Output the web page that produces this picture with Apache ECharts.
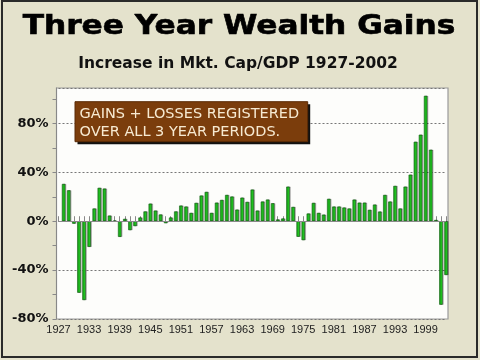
<!DOCTYPE html>
<html>
<head>
<meta charset="utf-8">
<script src="https://cdn.jsdelivr.net/npm/echarts@6/dist/echarts.min.js"></script>
<style>
html,body{margin:0;padding:0;background:#e4e2cc;}
#chart{width:480px;height:360px;}
</style>
</head>
<body>
<div id="chart"></div>
<script>
// Axis tick labels (one tick per year; a label every 6 years)
const axisYears = [];
for (let y = 1927; y <= 2003; y++) axisYears.push(String(y));
// Year positions of the bars (one step right of the first tick)
const barYears = axisYears.slice(1);
// Three-year change in market cap / GDP, percent
const gains = [
  30.5, 25.3, -2, -58.5, -64.5, -21, 10.4, 27.3, 26.7, 4.6,
  0.5, -12.8, 1.9, -7.3, -4, 3, 8, 14.4, 8.7, 5.5,
  -1.6, 3, 8, 12.8, 12, 6.8, 15, 21, 24, 6.8,
  15.2, 17.4, 21.5, 20.2, 9.5, 19.3, 15.8, 25.9, 8.7, 16.1,
  17.7, 14.7, 1.4, 2.2, 28.3, 11.7, -12.7, -15.5, 6.3, 15,
  6.8, 5.4, 18.3, 12, 12, 11.2, 10.4, 17.7, 15.2, 15.2,
  9.3, 13.6, 7.9, 21.5, 16.1, 28.9, 10.4, 28.3, 38.1, 65,
  70.8, 102.6, 58.5, 1, -68.3, -44
];
const yTickValues = [-80, -60, -40, -20, 0, 20, 40, 60, 80, 100];
const yLabelValues = [-80, -40, 0, 40, 80];
const titleText = 'Three Year Wealth Gains';
const subtitleText = 'Increase in Mkt. Cap/GDP 1927-2002';
const noteLines = ['GAINS + LOSSES REGISTERED', 'OVER ALL 3 YEAR PERIODS.'];

const chart = echarts.init(document.getElementById('chart'), null, {renderer: 'canvas'});
const option = {
  backgroundColor: '#e4e2cc',
  animation: false,
  grid: {left: 58.5, right: 34, top: 88, bottom: 41},
  xAxis: {
    type: 'category',
    data: axisYears,
    boundaryGap: false,
    axisLine: {lineStyle: {color: '#888', width: 1}},
    axisTick: {show: true, interval: 0, inside: true, length: 5, lineStyle: {color: '#888'}},
    axisLabel: {interval: 5, color: '#222', fontFamily: 'Liberation Sans', fontSize: 11, margin: 5},
    splitLine: {show: false}
  },
  yAxis: [{
    type: 'value',
    min: -80, max: 109, interval: 40,
    offset: 2,
    axisLine: {show: true, lineStyle: {color: '#888', width: 1}},
    axisTick: {show: true, length: 4, customValues: yTickValues, lineStyle: {color: '#888'}},
    axisLabel: {
      customValues: yLabelValues,
      formatter: v => v + '%',
      color: '#111', fontFamily: 'DejaVu Sans', fontWeight: 'bold', fontSize: 13, margin: 8
    },
    splitLine: {show: false}
  }, {
    type: 'value',
    position: 'left',
    min: -80, max: 109, interval: 40,
    axisLine: {show: false}, axisTick: {show: false}, axisLabel: {show: false},
    splitLine: {show: true, lineStyle: {color: '#777', type: [2, 2], width: 1}}
  }],
  series: [{
    type: 'bar',
    data: barYears.map((y, i) => [y, gains[i]]),
    barWidth: 3.4,
    itemStyle: {
      color: '#22cc22', borderColor: '#0d520d', borderWidth: 0.6,
      shadowColor: 'rgba(0,0,0,0.3)', shadowOffsetX: 1, shadowOffsetY: 0, shadowBlur: 0
    },
    markLine: {
      silent: true, symbol: 'none', label: {show: false},
      lineStyle: {color: '#8a8a8a', type: 'solid', width: 1},
      data: [{yAxis: 0}]
    }
  }],
  graphic: [
    {type: 'rect', z: -10, silent: true, shape: {x: 2, y: 1, width: 475, height: 356},
     style: {fill: 'none', stroke: '#2a2a2a', lineWidth: 2}},
    {type: 'rect', z: -5, silent: true, shape: {x: 56.5, y: 88, width: 391.5, height: 231},
     style: {fill: '#fdfdfb', stroke: '#9a9a9a', lineWidth: 1.2}},
    {type: 'text', z: 50, x: 239, y: 27, scaleX: 1.2, silent: true,
     style: {text: titleText, fill: '#000', stroke: '#000', lineWidth: 0.6,
             font: 'bold 26px "DejaVu Sans"', align: 'center', verticalAlign: 'middle'}},
    {type: 'text', z: 50, x: 238, y: 63.5, silent: true,
     style: {text: subtitleText, fill: '#111', font: 'bold 15.5px "DejaVu Sans"', align: 'center', verticalAlign: 'middle'}},
    {type: 'rect', z: 60, silent: true, shape: {x: 77.5, y: 104.3, width: 232.7, height: 40},
     style: {fill: '#111'}},
    {type: 'rect', z: 61, silent: true, shape: {x: 75, y: 101.7, width: 232.7, height: 40},
     style: {fill: '#7b3d0c', stroke: '#5a2a06', lineWidth: 1}},
    {type: 'text', z: 62, x: 79.5, y: 114, silent: true,
     style: {text: noteLines[0], fill: '#f7ead2', font: '14.5px "DejaVu Sans"', align: 'left', verticalAlign: 'middle'}},
    {type: 'text', z: 62, x: 79.5, y: 132.4, silent: true,
     style: {text: noteLines[1], fill: '#f7ead2', font: '14.5px "DejaVu Sans"', align: 'left', verticalAlign: 'middle'}}
  ]
};
chart.setOption(option);
</script>
</body>
</html>
